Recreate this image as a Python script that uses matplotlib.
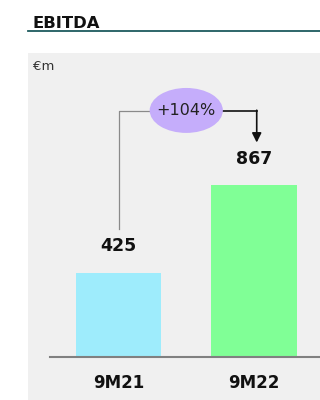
import matplotlib
matplotlib.use("Agg")
import matplotlib.pyplot as plt
from matplotlib.patches import Ellipse, Rectangle
from matplotlib.lines import Line2D

periods = ["9M21", "9M22"]
ebitda = [425, 867]
growth_label = "+104%"
bar_colors = ["#9eecfc", "#80ff96"]

W, H = 320, 400
fig = plt.figure(figsize=(W / 100, H / 100), dpi=100)
fig.patch.set_facecolor("white")

# grey panel + title rule
fig.patches.append(Rectangle((28 / W, 0), 1 - 28 / W, 1 - 53 / H, transform=fig.transFigure,
                             facecolor="#f0f0f0", edgecolor="none", zorder=-1))
fig.lines.append(Line2D([28 / W, 1], [1 - 31 / H, 1 - 31 / H], transform=fig.transFigure,
                        color="#1e5b5e", lw=1.3))
fig.text(32 / W, 1 - 27.5 / H, "EBITDA", fontsize=11.8, fontweight="semibold",
         color="#111111", va="baseline")
fig.text(33 / W, 1 - 67 / H, "€m", fontsize=9.5, color="#333333", va="center")

ax = fig.add_axes([28 / W, 43 / H, 292 / W, 304 / H])
ax.set_facecolor("none")
ax.set_zorder(2)
x = list(range(len(periods)))
ax.bar(x, ebitda, width=0.63, color=bar_colors, zorder=2)
ax.set_xlim(-0.668, 1.487)
ax.set_ylim(0, 1535)

for s in ["top", "right", "left"]:
    ax.spines[s].set_visible(False)
ax.spines["bottom"].set_color("#808080")
ax.spines["bottom"].set_linewidth(1.5)
ax.spines["bottom"].set_bounds(-0.506, 1.487)
ax.set_yticks([])
ax.set_xticks(x)
ax.set_xticklabels(periods, fontsize=12, fontweight="bold", color="#111111")
ax.tick_params(axis="x", length=0, pad=12)

# value labels
for xi, v in zip(x, ebitda):
    ax.text(xi, v + 135, f"{v}", ha="center", va="center", fontsize=12.5,
            fontweight="bold", color="#111111")

# growth connector
top_y = 1243
ell_w, ell_h = 0.54, 227
ax.plot([0, 0, 0.5 - ell_w / 2], [ebitda[0] + 221, top_y, top_y], color="#8a8a8a", lw=0.9,
        zorder=3, clip_on=False)
ax.plot([0.5 + ell_w / 2, 1.02], [top_y, top_y], color="#111111", lw=1.2, zorder=3)
ax.annotate("", xy=(1.02, ebitda[1] + 216), xytext=(1.02, top_y + 3),
            arrowprops=dict(arrowstyle="-|>", color="#111111", lw=1.2,
                            mutation_scale=14, shrinkA=0, shrinkB=0))
ax.add_patch(Ellipse((0.5, top_y + 2), ell_w, ell_h, facecolor="#c5adfb", edgecolor="none", zorder=4))
ax.text(0.5, top_y + 2, growth_label, ha="center", va="center", fontsize=11.5, color="#222222", zorder=5)

fig.savefig("out.png", dpi=100)
